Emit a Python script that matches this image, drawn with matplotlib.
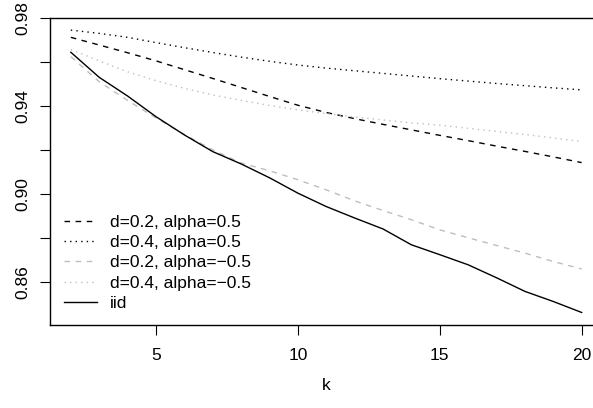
import numpy as np
import matplotlib
matplotlib.use("Agg")
import matplotlib.pyplot as plt

# k values and coverage curves
k = np.arange(2, 21)

d02_a05 = [0.9712, 0.9677, 0.9642, 0.9605, 0.9565, 0.9525, 0.9484, 0.9443, 0.9403, 0.9370,
           0.9342, 0.9316, 0.9291, 0.9266, 0.9242, 0.9217, 0.9193, 0.9168, 0.9142]
d04_a05 = [0.9745, 0.9730, 0.9712, 0.9688, 0.9665, 0.9643, 0.9622, 0.9603, 0.9586, 0.9572,
           0.9560, 0.9548, 0.9536, 0.9524, 0.9513, 0.9502, 0.9492, 0.9482, 0.9473]
d02_am05 = [0.9624, 0.9510, 0.9425, 0.9345, 0.9270, 0.9200, 0.9140, 0.9105, 0.9064, 0.9018,
            0.8968, 0.8924, 0.8882, 0.8836, 0.8800, 0.8765, 0.8730, 0.8692, 0.8658]
d04_am05 = [0.9657, 0.9605, 0.9555, 0.9515, 0.9480, 0.9450, 0.9425, 0.9402, 0.9382, 0.9365,
            0.9350, 0.9336, 0.9323, 0.9312, 0.9298, 0.9284, 0.9270, 0.9254, 0.9238]
iid = [0.9644, 0.9530, 0.9445, 0.9351, 0.9268, 0.9192, 0.9136, 0.9073, 0.9003, 0.8942,
       0.8890, 0.8840, 0.8768, 0.8723, 0.8677, 0.8618, 0.8556, 0.8510, 0.8460]

labels = ["d=0.2, alpha=0.5", "d=0.4, alpha=0.5", "d=0.2, alpha=\u22120.5",
          "d=0.4, alpha=\u22120.5", "iid"]

plt.rcParams['font.family'] = ['Liberation Sans', 'DejaVu Sans']
fs = 12.5

fig = plt.figure(figsize=(5.93, 4.08), dpi=100)
ax = fig.add_axes([50.4 / 593, 1 - 325 / 408, (602.1 - 50.4) / 593, (325 - 18) / 408])

lw = 1.0
ax.plot(k, d02_a05, color="black", lw=lw, linestyle=(0, (4, 4)), label=labels[0])
ax.plot(k, d04_a05, color="black", lw=lw, linestyle=(0, (1, 3)), label=labels[1])
ax.plot(k, d02_am05, color="#bebebe", lw=lw, linestyle=(0, (4, 4)), label=labels[2])
ax.plot(k, d04_am05, color="#bebebe", lw=lw, linestyle=(0, (1, 3)), label=labels[3])
ax.plot(k, iid, color="black", lw=lw, label=labels[4])

ax.set_xlim(1.28, 20.72)
ax.set_ylim(0.8403, 0.9800)

ax.set_xticks([5, 10, 15, 20])
yt = [0.86, 0.88, 0.90, 0.92, 0.94, 0.96, 0.98]
ax.set_yticks(yt)
ax.set_yticklabels(["0.86", "", "0.90", "", "0.94", "", "0.98"], rotation=90, va="center")
ax.tick_params(direction="out", length=7.2, width=0.8, labelsize=fs)
ax.tick_params(axis="x", pad=9)
ax.tick_params(axis="y", pad=7)

for s in ax.spines.values():
    s.set_linewidth(1.0)

ax.set_xlabel("k", fontsize=fs, labelpad=11)

ax.legend(loc="lower left", bbox_to_anchor=(0.0, 0.0), frameon=False, fontsize=fs,
          handlelength=1.9, handletextpad=0.75, labelspacing=0.3, borderaxespad=0.4)

plt.savefig("out.png", dpi=100)
